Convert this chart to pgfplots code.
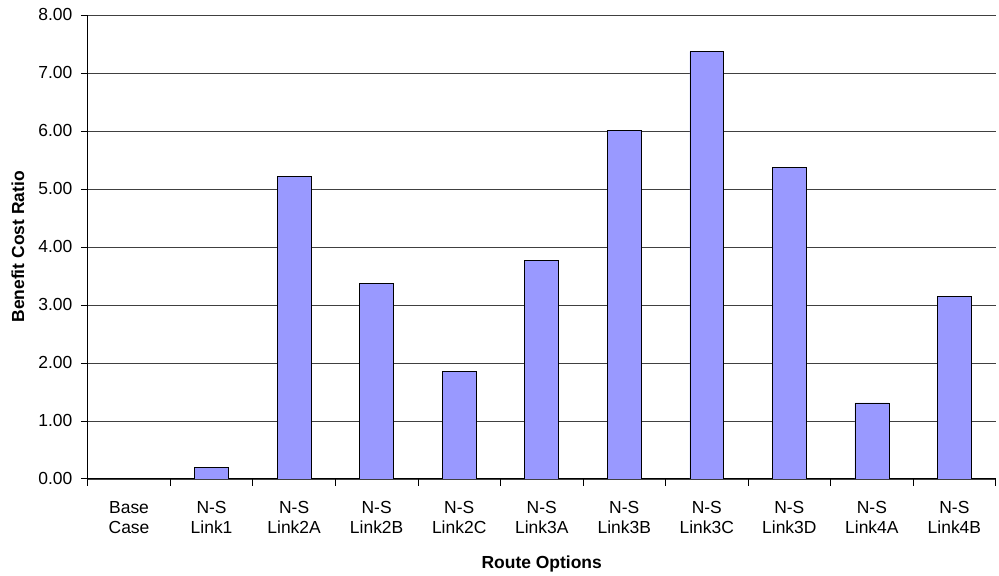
\documentclass[border=0pt]{standalone}
\usepackage{fontspec}
\setmainfont{Liberation Sans}
\usepackage{pgfplots}
\pgfplotsset{compat=1.18}
\definecolor{barfill}{HTML}{9999FF}
\definecolor{gridc}{HTML}{404040}

\begin{document}
\begin{tikzpicture}[x=1pt,y=1pt]
\begin{axis}[
  at={(0pt,0pt)}, anchor=south west,
  scale only axis,
  width=910pt, height=465pt,
  ymin=0, ymax=8,
  xmin=-0.5, xmax=10.5,
  axis x line=bottom, axis y line=left,
  axis line style={-, line width=0.8pt, black},
  ytick={0,1,...,8},
  yticklabel style={/pgf/number format/fixed, /pgf/number format/fixed zerofill, /pgf/number format/precision=2},
  /pgf/number format/assume math mode=true,
  ymajorgrids,
  major grid style={gridc, line width=0.6pt},
  xtick={0,...,10},
  xticklabels={{Base\\Case},{N-S\\Link1},{N-S\\Link2A},{N-S\\Link2B},{N-S\\Link2C},{N-S\\Link3A},{N-S\\Link3B},{N-S\\Link3C},{N-S\\Link3D},{N-S\\Link4A},{N-S\\Link4B}},
  xticklabel style={align=center, font=\fontsize{17.5}{20}\selectfont, yshift=-12pt},
  yticklabel style={font=\fontsize{17.5}{20}\selectfont, xshift=-5pt},
  xtick style={draw=none},
  ytick style={black, line width=0.8pt},
  tick align=outside,
  major tick length=7pt,
  extra x ticks={-0.5,0.5,...,10.5},
  extra x tick labels={},
  extra x tick style={grid=none, xtick style={draw=black, line width=0.8pt}, major tick length=7pt},
  xlabel={\textbf{Route Options}},
  ylabel={\textbf{Benefit Cost Ratio}},
  label style={font=\fontsize{17.5}{20}\selectfont},
  xlabel style={at={(axis description cs:0.5,0)}, anchor=center, yshift=-85pt},
  ylabel style={at={(axis description cs:0,0.5)}, anchor=center, yshift=70pt},
  ybar, bar width=34pt,
]
\addplot[fill=barfill, draw=black, line width=0.6pt] coordinates {
  (1,0.20) (2,5.22) (3,3.37) (4,1.86) (5,3.77)
  (6,6.01) (7,7.37) (8,5.37) (9,1.31) (10,3.15)
};
\end{axis}
\path[use as bounding box] (-88pt,-91pt) rectangle (911pt,480pt);
\end{tikzpicture}
\end{document}
